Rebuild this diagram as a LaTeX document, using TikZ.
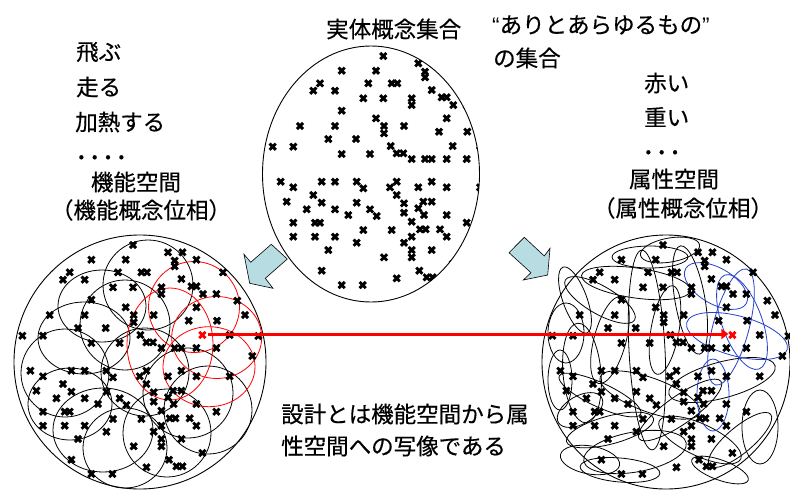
\documentclass[tikz,border=0pt]{standalone}
\usepackage{fontspec}
\setmainfont[FakeBold=0.4]{Noto Sans CJK JP}
\newfontfamily\latq{Liberation Sans}
\usetikzlibrary{arrows.meta}
\definecolor{arrowblue}{RGB}{183,221,227}
\definecolor{setred}{RGB}{255,0,0}
\definecolor{setblue}{RGB}{35,65,205}
\def\markset{383.3/56, 341.7/70.7, 376/70.7, 418.3/63.3, 432.7/63.3, 425/71.7, 425/77.3, 446.7/70.7,
320/83.3, 313.3/90.7, 335/90.7, 368.3/83.3, 391.7/83.3, 397.3/83.3, 473.3/83.3, 431.7/90, 441.7/97.3,
446.7/97.3, 453.3/105, 466.7/105, 363.3/98.3, 383.3/98.3, 411.7/98.3, 411.7/105, 341.7/110.7, 300/126,
335/126, 376/118.3, 384/126, 384/133.3, 404/126, 446.7/118.3, 439/131.7, 467.3/131.7, 328.3/139, 356/139,
272.7/146.7, 293.3/146.7, 341.7/154, 370/154, 390.7/146, 396.7/153.3, 403.3/153.3, 411.7/159, 425/159,
431.7/159, 446.7/159, 466.7/159, 480/146, 487.6/111.7, 495.3/126, 508.6/147, 502.6/167,
280.7/181.7, 293.3/187.3, 321.7/181.7, 335/181.7, 356.7/181.7, 363.3/188.3, 396.7/181.7, 390/187.3,
396.7/195, 404/203.3, 404/212.7, 411.7/221.7, 420/229.3, 425.7/229.3, 411.7/236.7, 404/242.7, 411.7/250,
411.7/257.3, 423.3/201.7, 431.7/201.7, 418.3/208.3, 424/215, 418.3/187.3, 431.7/181.7, 446.7/187.3,
480/187.3, 286.7/201.7, 313.3/195, 321.7/202.7, 306.7/209.3, 335/209.3, 356.7/202.7, 348.3/215, 370/209.3,
376.7/216, 446.7/215, 466.7/222.7, 440/229.3, 446.7/236.7, 293.3/222.7, 315/222.7, 320/222.7, 293.3/236.7,
315/236.7, 335/236.7, 363.3/230, 391.7/230, 356.7/242.7, 328.3/250, 384/257.3, 431.7/250, 452.7/264,
321.7/270.7, 341.7/285, 362.7/285, 396.7/278.3, 419.3/270.7, 426.7/277.3, 432.7/277.3}
\begin{document}
\begin{tikzpicture}[x=1pt,y=-1pt,
  txt/.style={inner sep=0pt, font=\fontsize{22.5}{26}\selectfont},
  dots/.style={inner sep=0pt, font=\fontsize{30}{30}\selectfont},
  xmk/.style={line width=2.9pt},
  ring/.style={draw=black, line width=0.8pt},
  redring/.style={draw=setred, line width=0.8pt},
  bluering/.style={draw=setblue, line width=0.8pt},
  outer/.style={draw=black, line width=0.9pt},
  blockarrow/.style={draw=black, line width=0.6pt, fill=arrowblue, line join=miter},
  maparrow/.style={draw=setred, line width=3pt, -{Triangle[length=7pt,width=10pt]}}]
\useasboundingbox (0,0) rectangle (790,491);
\fill[white] (0,0) rectangle (790,491);

% ---------- texts ----------
\node[txt, anchor=west] (ttop) at (326,29) {実体概念集合};
\node[txt, anchor=west] (tq1) at (492,25) {{\latq “}ありとあらゆるもの{\latq ”}};
\node[txt, anchor=west] (tq2) at (493,58) {の集合};
\node[txt, anchor=west] (l1) at (76,52) {飛ぶ};
\node[txt, anchor=west] (l2) at (76,87) {走る};
\node[txt, anchor=west] (l3) at (75,122) {加熱する};
\node[dots, anchor=base west] (l4) at (77,159) {.\kern5pt.\kern5pt.\kern5pt.};
\node[txt] (l5) at (136,182) {機能空間};
\node[txt] (l6) at (141,210) {（機能概念位相）};
\node[txt, anchor=west] (r1) at (644,83) {赤い};
\node[txt, anchor=west] (r2) at (644,117) {重い};
\node[dots, anchor=base west] (r3) at (644,154) {.\kern5pt.\kern5pt.};
\node[txt] (r4) at (674,179) {属性空間};
\node[txt] (r5) at (683,208) {（属性概念位相）};
\node[txt, anchor=west] (b1) at (281,414) {設計とは機能空間から属};
\node[txt, anchor=west] (b2) at (281,446) {性空間への写像である};

% ---------- top set ----------
\draw[outer] (371,174) ellipse [x radius=108.5, y radius=128];
\begin{scope}
  \clip (371,174) ellipse [x radius=108.5, y radius=128];
  \foreach \a/\b in \markset {\draw[xmk] (\a,\b) +(-3.1,-3.1) -- +(3.1,3.1) +(-3.1,3.1) -- +(3.1,-3.1);}
  \draw[xmk] (452.7,146) +(-3.1,-3.1) -- +(3.1,3.1) +(-3.1,3.1) -- +(3.1,-3.1);
\end{scope}

% ---------- block arrows ----------
\draw[blockarrow] (244,254.3) -- (250.7,262.3) -- (271.3,244.3) -- (287.3,259) -- (265.3,278.3)
  -- (273,288.3) -- (249.7,283.3) -- cycle;
\draw[blockarrow] (509,252.7) -- (524.3,237.3) -- (544.3,256) -- (550,248.3) -- (547.7,275)
  -- (523.3,280) -- (531,272.7) -- cycle;

% ---------- function space (left) ----------
\draw[outer] (140,362) ellipse [x radius=126, y radius=127];
\foreach \cx/\cy/\rx/\ry in {148/285/45/45, 102/306/44/36, 84/338/46/36, 65/373/44/44, 70/404/42/36,
  103/430/50/42, 125/325/45/45, 145/372/44/44, 188/393/45/45, 208/410/44/44, 167/433/44/44, 125/448/42/40}
  {\draw[ring] (\cx,\cy) ellipse [x radius=\rx, y radius=\ry];}
\foreach \cx/\cy/\rx/\ry in {194/307/45.5/45.5, 170/344/43/56, 216.7/337.5/45/41, 209/366.7/46/40}
  {\draw[redring] (\cx,\cy) ellipse [x radius=\rx, y radius=\ry];}
\begin{scope}[shift={(-250.3,189)}]
  \foreach \a/\b in \markset {\draw[xmk] (\a,\b) +(-3.1,-3.1) -- +(3.1,3.1) +(-3.1,3.1) -- +(3.1,-3.1);}
  \draw[xmk, setred] (452.7,146) +(-3.1,-3.1) -- +(3.1,3.1) +(-3.1,3.1) -- +(3.1,-3.1);
  \coordinate (redL) at (452.7,146);
\end{scope}

% ---------- attribute space (right) ----------
\draw[outer] (666,362) ellipse [x radius=124, y radius=127];
\foreach \cx/\cy/\rx/\ry/\rot in {636/283/55/15/-8, 650/257/38/11/0, 566/333/18/30/0, 582/373/19/50/5,
  610/340/16/45/-15, 635/452/52/20/10, 647/350/18/100/3, 722/380/55/18/15, 760/427/18/37/0,
  650/395/53/17/-20, 600/300/40/14/-30, 690/300/15/55/10, 610/430/45/14/15, 700/440/45/16/-25,
  680/410/50/14/35, 590/460/30/14/-10, 720/470/30/10/-20, 670/250/30/12/10, 580/410/25/14/30, 560/380/12/30/0,
  620/470/40/12/-5, 665/330/14/45/-10, 600/395/45/12/-25, 740/440/40/13/40, 575/300/12/35/20}
  {\draw[ring, rotate around={\rot:(\cx,\cy)}] (\cx,\cy) ellipse [x radius=\rx, y radius=\ry];}
\foreach \cx/\cy/\rx/\ry/\rot in {716/286/35/18/-30, 737/336/52/20/-15, 713/395/16/36/0, 731/327/18/60/-15, 742/322/20/50/20}
  {\draw[bluering, rotate around={\rot:(\cx,\cy)}] (\cx,\cy) ellipse [x radius=\rx, y radius=\ry];}
\begin{scope}[shift={(279.7,189)}]
  \foreach \a/\b in \markset {\draw[xmk] (\a,\b) +(-3.1,-3.1) -- +(3.1,3.1) +(-3.1,3.1) -- +(3.1,-3.1);}
  \draw[xmk, setred] (452.7,146) +(-3.1,-3.1) -- +(3.1,3.1) +(-3.1,3.1) -- +(3.1,-3.1);
  \coordinate (redR) at (452.7,146);
\end{scope}

% ---------- mapping arrow ----------
\draw[maparrow, shorten <=6pt, shorten >=4pt] ([yshift=1pt]redL) -- ([yshift=1pt]redR);
\end{tikzpicture}
\end{document}
